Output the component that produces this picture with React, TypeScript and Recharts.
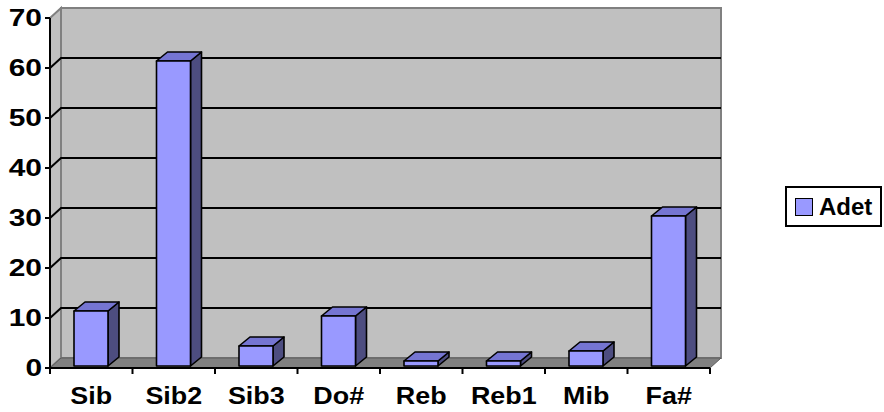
import React from "react";
import { Bar, BarChart, CartesianGrid, XAxis, YAxis } from "recharts";

const CATEGORIES = ["Sib", "Sib2", "Sib3", "Do#", "Reb", "Reb1", "Mib", "Fa#"];
const ADET = [11, 61, 4, 10, 1, 1, 3, 30];
const Y_TICKS = [0, 10, 20, 30, 40, 50, 60, 70];
const SERIES = "Adet";

const data = CATEGORIES.map((name, i) => ({ name, [SERIES]: ADET[i] }));

// 3d look
const DX = 11;
const DY = -10;
const BAR_DX = 11;
const BAR_DY = -9;
const LIFT = 2;
const FONT = "'Liberation Sans', Arial, Helvetica, sans-serif";

const FRONT = "#9999ff";
const TOP = "#7575d2";
const SIDE = "#4d4d80";

function Walls({ x, y, width, height }: any) {
  const b = y + height;
  const r = x + width;
  return (
    <g>
      <polygon
        points={`${x},${y} ${x + DX},${y + DY} ${x + DX},${b + DY} ${x},${b}`}
        fill="#c0c0c0"
        stroke="#808080"
        strokeWidth={2}
      />
      <rect
        x={x + DX}
        y={y + DY}
        width={width}
        height={height}
        fill="#c0c0c0"
        stroke="#808080"
        strokeWidth={2}
      />
      <polygon
        points={`${x},${b} ${x + DX},${b + DY} ${r + DX},${b + DY} ${r},${b}`}
        fill="#808080"
        stroke="#5a5a5a"
        strokeWidth={1}
      />
    </g>
  );
}

// grid lines sit on the back wall; the walls are drawn with the first line so they stay behind
function GridLine(props: any) {
  const { x1, y1, x2, y, height, index } = props;
  const edge = Math.abs(y1 - y) < 1 || Math.abs(y1 - (y + height)) < 1;
  return (
    <g key={props.key}>
      {index === 0 && <Walls x={props.x} y={y} width={props.width} height={height} />}
      {!edge && (
        <polyline
          points={`${x1},${y1} ${x1 + DX},${y1 + DY} ${x2 + DX},${y1 + DY}`}
          fill="none"
          stroke="#000"
          strokeWidth={2}
        />
      )}
    </g>
  );
}

function Bar3D(props: any) {
  const { x, y, width, height } = props;
  if (x == null || height == null) return null;
  const t = y - LIFT;
  const b = y + height - LIFT;
  const r = x + width;
  return (
    <g stroke="#000" strokeWidth={1.6} strokeLinejoin="round">
      <polygon
        points={`${r},${t} ${r + BAR_DX},${t + BAR_DY} ${r + BAR_DX},${b + BAR_DY} ${r},${b}`}
        fill={SIDE}
      />
      <polygon
        points={`${x},${t} ${x + BAR_DX},${t + BAR_DY} ${r + BAR_DX},${t + BAR_DY} ${r},${t}`}
        fill={TOP}
      />
      <rect x={x} y={t} width={width} height={b - t} fill={FRONT} />
    </g>
  );
}

function YTick({ x, y, payload }: any) {
  return (
    <text
      transform={`translate(${x},${y}) scale(1.3,1)`}
      textAnchor="end"
      dominantBaseline="central"
      fontFamily={FONT}
      fontWeight="bold"
      fontSize={23}
      fill="#000"
    >
      {payload.value}
    </text>
  );
}

function XTick({ x, y, payload, index }: any) {
  const half = payload.offset ?? 41.25;
  const last = index === CATEGORIES.length - 1;
  return (
    <g>
      <line x1={x - half} x2={x - half} y1={y - 8} y2={y - 2} stroke="#000" strokeWidth={2} />
      {last && <line x1={x + half} x2={x + half} y1={y - 8} y2={y - 2} stroke="#000" strokeWidth={2} />}
      <text
        transform={`translate(${x},${y + 28}) scale(1.12,1)`}
        textAnchor="middle"
        fontFamily={FONT}
        fontWeight="bold"
        fontSize={24}
        fill="#000"
      >
        {payload.value}
      </text>
    </g>
  );
}

export default function App() {
  return (
    <div style={{ position: "absolute", left: 0, top: 0, width: 884, height: 412, background: "#fff" }}>
      <BarChart width={884} height={412} data={data} margin={{ top: 18, right: 174, bottom: 0, left: 0 }}>
        <CartesianGrid vertical={false} horizontal={GridLine} />
        <XAxis
          dataKey="name"
          height={44}
          axisLine={{ stroke: "#000", strokeWidth: 2 }}
          tickLine={{ stroke: "none" }}
          tickSize={6}
          tickMargin={2}
          interval={0}
          tick={XTick}
        />
        <YAxis
          width={50}
          domain={[0, 70]}
          ticks={Y_TICKS}
          interval={0}
          axisLine={{ stroke: "#000", strokeWidth: 2 }}
          tickLine={{ stroke: "#000", strokeWidth: 2 }}
          tickSize={5}
          tickMargin={3}
          tick={YTick}
        />
        <Bar dataKey={SERIES} barSize={34} shape={Bar3D} isAnimationActive={false} />
      </BarChart>
      <div
        style={{
          position: "absolute",
          left: 785,
          top: 186,
          width: 93,
          height: 37,
          border: "2px solid #000",
          display: "flex",
          alignItems: "center",
          fontFamily: FONT,
          fontWeight: "bold",
          fontSize: 24,
          color: "#000",
        }}
      >
        <span
          style={{
            display: "inline-block",
            width: 16,
            height: 16,
            marginLeft: 8,
            marginRight: 6,
            background: FRONT,
            border: "1.5px solid #000",
          }}
        />
        <span>{SERIES}</span>
      </div>
    </div>
  );
}
